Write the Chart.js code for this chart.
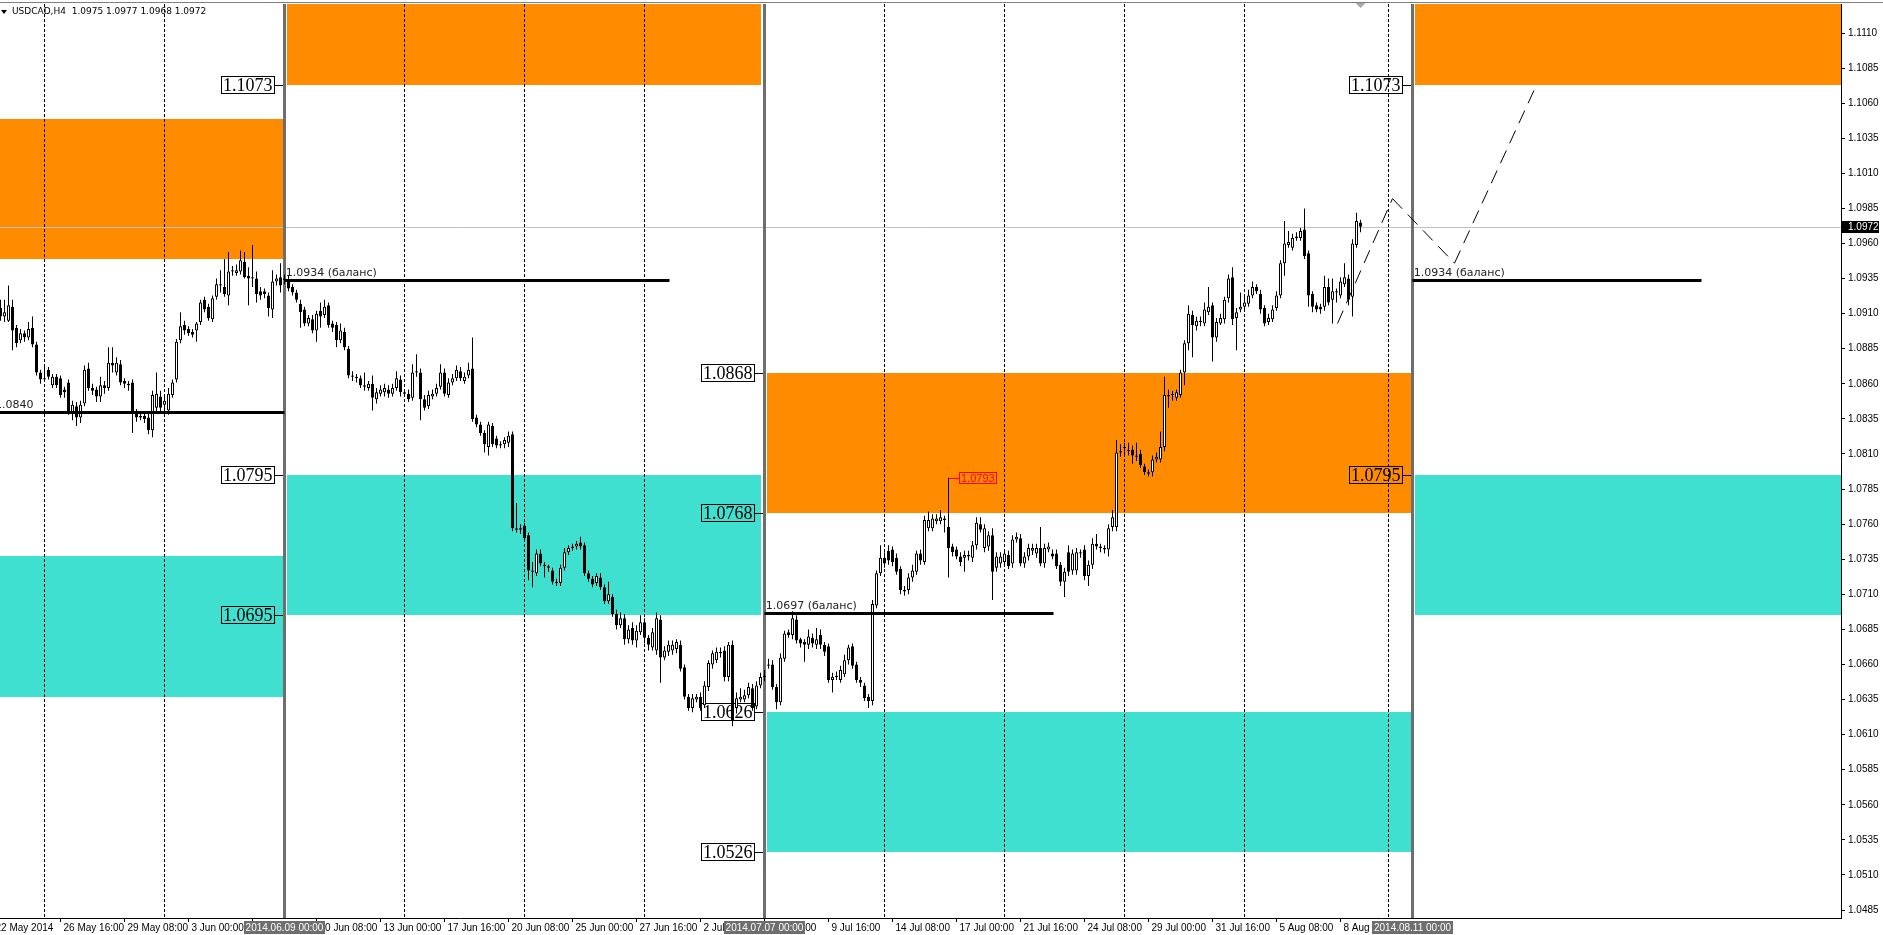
<!DOCTYPE html>
<html><head><meta charset="utf-8">
<script src="https://cdn.jsdelivr.net/npm/chart.js@4.4.1/dist/chart.umd.min.js"></script>
<style>html,body{margin:0;padding:0;background:#fff;overflow:hidden}canvas{display:block}</style>
</head><body>
<canvas id="c" width="1883" height="935" style="width:1883px;height:935px"></canvas>
<script>
const symbolName = 'USDCAD,H4';

const opens = [
1.0914,1.0908,1.0905,1.0915,1.0900,1.0891,1.0896,1.0893,1.0900,1.0888,
1.0868,1.0863,1.0870,1.0859,1.0865,1.0864,1.0856,1.0861,1.0840,1.0844,
1.0836,1.0846,1.0871,1.0857,1.0856,1.0851,1.0859,1.0857,1.0875,1.0868,
1.0874,1.0862,1.0860,1.0861,1.0839,1.0836,1.0837,1.0836,1.0827,1.0843,
1.0851,1.0845,1.0841,1.0852,1.0863,1.0891,1.0902,1.0899,1.0897,1.0898,
1.0904,1.0920,1.0915,1.0906,1.0922,1.0931,1.0929,1.0923,1.0940,1.0939,
1.0940,1.0947,1.0937,1.0935,1.0935,1.0926,1.0926,1.0923,1.0913,1.0933,
1.0936,1.0934,1.0934,1.0929,1.0925,1.0917,1.0913,1.0903,1.0906,1.0898,
1.0912,1.0909,1.0916,1.0903,1.0902,1.0891,1.0897,1.0885,1.0866,1.0865,
1.0864,1.0859,1.0857,1.0860,1.0849,1.0853,1.0854,1.0856,1.0853,1.0857,
1.0863,1.0854,1.0853,1.0850,1.0868,1.0868,1.0849,1.0844,1.0851,1.0853,
1.0858,1.0868,1.0852,1.0861,1.0864,1.0869,1.0862,1.0866,1.0871,1.0836,
1.0831,1.0825,1.0815,1.0830,1.0821,1.0816,1.0817,1.0818,1.0824,1.0757,
1.0756,1.0759,1.0752,1.0727,1.0725,1.0739,1.0731,1.0730,1.0727,1.0719,
1.0718,1.0729,1.0740,1.0743,1.0744,1.0747,1.0745,1.0725,1.0721,1.0718,
1.0722,1.0715,1.0705,1.0708,1.0696,1.0688,1.0693,1.0678,1.0686,1.0677,
1.0683,1.0690,1.0679,1.0672,1.0670,1.0692,1.0665,1.0669,1.0670,1.0671,
1.0674,1.0658,1.0637,1.0629,1.0635,1.0637,1.0631,1.0644,1.0660,1.0663,
1.0669,1.0670,1.0651,1.0674,1.0629,1.0635,1.0635,1.0638,1.0643,1.0630,
1.0645,1.0651,1.0659,1.0660,1.0644,1.0633,1.0664,1.0683,1.0681,1.0692,
1.0678,1.0676,1.0674,1.0679,1.0674,1.0681,1.0674,1.0673,1.0649,1.0651,
1.0649,1.0653,1.0663,1.0673,1.0660,1.0649,1.0645,1.0637,1.0634,1.0702,
1.0725,1.0736,1.0741,1.0742,1.0736,1.0728,1.0713,1.0713,1.0722,1.0726,
1.0739,1.0733,1.0757,1.0757,1.0762,1.0762,1.0764,1.0758,1.0744,1.0742,
1.0737,1.0736,1.0737,1.0736,1.0745,1.0760,1.0743,1.0744,1.0752,1.0729,
1.0732,1.0733,1.0738,1.0732,1.0749,1.0750,1.0732,1.0737,1.0741,1.0739,
1.0743,1.0732,1.0742,1.0739,1.0739,1.0731,1.0719,1.0740,1.0727,1.0727,
1.0740,1.0742,1.0723,1.0731,1.0746,1.0744,1.0743,1.0742,1.0758,1.0758,
1.0811,1.0815,1.0813,1.0813,1.0808,1.0810,1.0801,1.0797,1.0797,1.0806,
1.0806,1.0815,1.0852,1.0852,1.0850,1.0852,1.0868,1.0889,1.0909,1.0901,
1.0904,1.0903,1.0911,1.0916,1.0893,1.0903,1.0906,1.0921,1.0936,1.0907,
1.0913,1.0915,1.0917,1.0923,1.0929,1.0924,1.0914,1.0904,1.0906,1.0914,
1.0923,1.0946,1.0959,1.0957,1.0964,1.0964,1.0970,1.0953,1.0924,1.0916,
1.0915,1.0915,1.0929,1.0920,1.0925,1.0923,1.0931,1.0935,1.0922,1.0959,
1.0975];

const highs = [
1.0920,1.0920,1.0930,1.0920,1.0902,1.0899,1.0898,1.0904,1.0908,1.0890,
1.0870,1.0872,1.0872,1.0867,1.0867,1.0866,1.0858,1.0863,1.0848,1.0847,
1.0848,1.0873,1.0875,1.0860,1.0858,1.0865,1.0862,1.0886,1.0886,1.0879,
1.0877,1.0864,1.0862,1.0863,1.0842,1.0840,1.0839,1.0839,1.0855,1.0868,
1.0855,1.0852,1.0857,1.0863,1.0892,1.0911,1.0905,1.0901,1.0899,1.0904,
1.0920,1.0922,1.0917,1.0923,1.0935,1.0941,1.0949,1.0954,1.0944,1.0945,
1.0955,1.0954,1.0943,1.0959,1.0940,1.0929,1.0928,1.0925,1.0941,1.0938,
1.0946,1.0938,1.0937,1.0931,1.0927,1.0920,1.0915,1.0909,1.0909,1.0912,
1.0918,1.0920,1.0918,1.0905,1.0904,1.0903,1.0900,1.0887,1.0869,1.0867,
1.0866,1.0868,1.0862,1.0866,1.0857,1.0859,1.0860,1.0859,1.0860,1.0869,
1.0866,1.0856,1.0856,1.0874,1.0881,1.0871,1.0852,1.0855,1.0856,1.0860,
1.0874,1.0871,1.0864,1.0867,1.0873,1.0872,1.0868,1.0875,1.0893,1.0838,
1.0833,1.0827,1.0833,1.0832,1.0823,1.0819,1.0822,1.0826,1.0826,1.0775,
1.0760,1.0761,1.0754,1.0733,1.0742,1.0742,1.0733,1.0731,1.0729,1.0721,
1.0731,1.0743,1.0745,1.0746,1.0748,1.0751,1.0747,1.0727,1.0723,1.0725,
1.0725,1.0717,1.0719,1.0710,1.0699,1.0697,1.0696,1.0688,1.0690,1.0688,
1.0695,1.0693,1.0681,1.0686,1.0697,1.0695,1.0673,1.0677,1.0677,1.0678,
1.0677,1.0660,1.0639,1.0639,1.0639,1.0640,1.0648,1.0663,1.0670,1.0672,
1.0672,1.0673,1.0676,1.0677,1.0640,1.0643,1.0642,1.0647,1.0646,1.0648,
1.0654,1.0656,1.0664,1.0663,1.0646,1.0668,1.0684,1.0685,1.0698,1.0695,
1.0679,1.0678,1.0685,1.0682,1.0686,1.0685,1.0676,1.0675,1.0654,1.0655,
1.0659,1.0667,1.0674,1.0675,1.0662,1.0651,1.0647,1.0639,1.0706,1.0727,
1.0745,1.0740,1.0745,1.0744,1.0739,1.0730,1.0716,1.0725,1.0731,1.0741,
1.0742,1.0766,1.0769,1.0767,1.0767,1.0770,1.0766,1.0793,1.0746,1.0744,
1.0740,1.0741,1.0741,1.0748,1.0765,1.0765,1.0760,1.0755,1.0757,1.0740,
1.0740,1.0742,1.0741,1.0752,1.0754,1.0753,1.0740,1.0746,1.0746,1.0746,
1.0758,1.0746,1.0747,1.0742,1.0742,1.0733,1.0729,1.0745,1.0742,1.0743,
1.0742,1.0745,1.0734,1.0750,1.0753,1.0746,1.0745,1.0760,1.0770,1.0820,
1.0817,1.0818,1.0818,1.0816,1.0818,1.0813,1.0803,1.0799,1.0809,1.0811,
1.0826,1.0865,1.0856,1.0855,1.0856,1.0870,1.0891,1.0916,1.0912,1.0908,
1.0908,1.0918,1.0929,1.0918,1.0907,1.0910,1.0922,1.0938,1.0943,1.0914,
1.0925,1.0924,1.0927,1.0933,1.0931,1.0927,1.0916,1.0910,1.0916,1.0926,
1.0948,1.0976,1.0969,1.0967,1.0968,1.0971,1.0985,1.0955,1.0926,1.0918,
1.0917,1.0937,1.0935,1.0935,1.0928,1.0936,1.0946,1.0938,1.0963,1.0982,
1.0977];

const lows = [
1.0905,1.0904,1.0904,1.0884,1.0886,1.0889,1.0890,1.0891,1.0886,1.0866,
1.0860,1.0862,1.0863,1.0857,1.0857,1.0850,1.0850,1.0838,1.0834,1.0830,
1.0832,1.0844,1.0855,1.0852,1.0847,1.0847,1.0853,1.0855,1.0868,1.0866,
1.0859,1.0857,1.0855,1.0825,1.0833,1.0834,1.0832,1.0824,1.0822,1.0839,
1.0840,1.0842,1.0838,1.0850,1.0861,1.0889,1.0895,1.0894,1.0893,1.0890,
1.0902,1.0911,1.0905,1.0904,1.0920,1.0925,1.0922,1.0916,1.0937,1.0937,
1.0938,1.0935,1.0916,1.0929,1.0918,1.0920,1.0921,1.0908,1.0907,1.0930,
1.0925,1.0931,1.0926,1.0923,1.0918,1.0900,1.0901,1.0901,1.0896,1.0890,
1.0900,1.0907,1.0900,1.0897,1.0886,1.0889,1.0884,1.0864,1.0862,1.0861,
1.0857,1.0855,1.0855,1.0841,1.0846,1.0851,1.0851,1.0850,1.0851,1.0855,
1.0851,1.0851,1.0847,1.0848,1.0865,1.0834,1.0841,1.0842,1.0849,1.0851,
1.0856,1.0851,1.0850,1.0859,1.0862,1.0862,1.0860,1.0864,1.0833,1.0829,
1.0823,1.0811,1.0809,1.0815,1.0814,1.0814,1.0814,1.0815,1.0755,1.0754,
1.0753,1.0748,1.0720,1.0715,1.0723,1.0730,1.0722,1.0726,1.0717,1.0716,
1.0716,1.0727,1.0738,1.0741,1.0742,1.0742,1.0723,1.0719,1.0715,1.0716,
1.0713,1.0703,1.0703,1.0694,1.0685,1.0686,1.0674,1.0675,1.0674,1.0672,
1.0681,1.0675,1.0670,1.0670,1.0667,1.0647,1.0663,1.0666,1.0667,1.0668,
1.0655,1.0635,1.0627,1.0626,1.0633,1.0627,1.0629,1.0641,1.0657,1.0661,
1.0665,1.0648,1.0648,1.0616,1.0625,1.0633,1.0633,1.0636,1.0627,1.0628,
1.0643,1.0648,1.0657,1.0642,1.0628,1.0631,1.0662,1.0679,1.0678,1.0675,
1.0672,1.0662,1.0671,1.0672,1.0671,1.0671,1.0666,1.0647,1.0640,1.0649,
1.0647,1.0651,1.0660,1.0657,1.0647,1.0644,1.0634,1.0629,1.0631,1.0700,
1.0723,1.0729,1.0731,1.0730,1.0724,1.0710,1.0709,1.0710,1.0719,1.0724,
1.0731,1.0731,1.0755,1.0755,1.0760,1.0760,1.0754,1.0722,1.0737,1.0735,
1.0730,1.0726,1.0734,1.0733,1.0742,1.0754,1.0740,1.0741,1.0706,1.0726,
1.0729,1.0730,1.0728,1.0729,1.0747,1.0730,1.0729,1.0734,1.0738,1.0736,
1.0730,1.0729,1.0740,1.0735,1.0728,1.0716,1.0708,1.0723,1.0724,1.0724,
1.0736,1.0720,1.0716,1.0728,1.0742,1.0740,1.0739,1.0737,1.0755,1.0755,
1.0808,1.0810,1.0809,1.0803,1.0805,1.0800,1.0795,1.0794,1.0794,1.0804,
1.0804,1.0812,1.0843,1.0848,1.0848,1.0850,1.0859,1.0884,1.0879,1.0898,
1.0901,1.0901,1.0909,1.0876,1.0890,1.0902,1.0903,1.0918,1.0902,1.0884,
1.0911,1.0913,1.0915,1.0921,1.0924,1.0910,1.0901,1.0902,1.0904,1.0912,
1.0921,1.0937,1.0957,1.0955,1.0962,1.0962,1.0949,1.0915,1.0911,1.0911,
1.0910,1.0912,1.0916,1.0903,1.0918,1.0921,1.0929,1.0916,1.0908,1.0957,
1.0968];

const closes = [
1.0908,1.0911,1.0916,1.0898,1.0889,1.0896,1.0893,1.0899,1.0888,1.0868,
1.0863,1.0864,1.0865,1.0865,1.0859,1.0852,1.0854,1.0840,1.0845,1.0836,
1.0845,1.0870,1.0857,1.0855,1.0851,1.0859,1.0857,1.0875,1.0873,1.0875,
1.0861,1.0860,1.0859,1.0839,1.0836,1.0837,1.0835,1.0827,1.0852,1.0853,
1.0843,1.0848,1.0853,1.0861,1.0890,1.0901,1.0898,1.0896,1.0895,1.0903,
1.0918,1.0913,1.0907,1.0921,1.0931,1.0930,1.0924,1.0940,1.0941,1.0941,
1.0948,1.0936,1.0935,1.0936,1.0924,1.0923,1.0924,1.0914,1.0933,1.0935,
1.0930,1.0935,1.0928,1.0925,1.0920,1.0911,1.0903,1.0907,1.0898,1.0910,
1.0908,1.0915,1.0902,1.0900,1.0891,1.0898,1.0886,1.0866,1.0865,1.0864,
1.0859,1.0858,1.0860,1.0850,1.0854,1.0856,1.0857,1.0853,1.0857,1.0864,
1.0854,1.0853,1.0849,1.0868,1.0869,1.0849,1.0843,1.0852,1.0853,1.0857,
1.0868,1.0853,1.0861,1.0864,1.0870,1.0864,1.0865,1.0870,1.0835,1.0831,
1.0825,1.0817,1.0831,1.0817,1.0816,1.0817,1.0820,1.0823,1.0757,1.0756,
1.0757,1.0750,1.0727,1.0726,1.0739,1.0732,1.0730,1.0729,1.0719,1.0718,
1.0729,1.0740,1.0743,1.0744,1.0746,1.0744,1.0725,1.0721,1.0717,1.0723,
1.0715,1.0705,1.0710,1.0696,1.0688,1.0693,1.0678,1.0685,1.0677,1.0684,
1.0690,1.0679,1.0674,1.0683,1.0693,1.0665,1.0670,1.0674,1.0674,1.0676,
1.0657,1.0637,1.0629,1.0636,1.0637,1.0629,1.0645,1.0661,1.0668,1.0669,
1.0668,1.0651,1.0674,1.0620,1.0636,1.0637,1.0638,1.0644,1.0629,1.0645,
1.0651,1.0652,1.0660,1.0644,1.0633,1.0665,1.0682,1.0681,1.0693,1.0677,
1.0675,1.0674,1.0680,1.0675,1.0678,1.0674,1.0669,1.0649,1.0651,1.0652,
1.0656,1.0663,1.0672,1.0659,1.0649,1.0647,1.0636,1.0634,1.0703,1.0725,
1.0736,1.0732,1.0734,1.0733,1.0726,1.0713,1.0712,1.0722,1.0727,1.0739,
1.0734,1.0763,1.0763,1.0764,1.0764,1.0765,1.0763,1.0743,1.0740,1.0737,
1.0733,1.0738,1.0738,1.0745,1.0761,1.0756,1.0757,1.0752,1.0726,1.0737,
1.0737,1.0739,1.0730,1.0749,1.0751,1.0732,1.0737,1.0743,1.0743,1.0743,
1.0732,1.0743,1.0744,1.0737,1.0730,1.0719,1.0726,1.0726,1.0739,1.0740,
1.0739,1.0723,1.0731,1.0746,1.0744,1.0743,1.0742,1.0757,1.0765,1.0811,
1.0812,1.0814,1.0812,1.0809,1.0809,1.0802,1.0797,1.0796,1.0806,1.0808,
1.0815,1.0852,1.0851,1.0852,1.0854,1.0868,1.0889,1.0910,1.0902,1.0905,
1.0905,1.0913,1.0915,1.0893,1.0904,1.0907,1.0920,1.0935,1.0906,1.0911,
1.0915,1.0918,1.0923,1.0929,1.0926,1.0913,1.0903,1.0907,1.0913,1.0923,
1.0946,1.0960,1.0961,1.0964,1.0965,1.0969,1.0951,1.0923,1.0915,1.0913,
1.0913,1.0929,1.0918,1.0926,1.0926,1.0933,1.0936,1.0920,1.0960,1.0976,
1.0972];

const yTickValues = [1.0485,1.0510,1.0535,1.0560,1.0585,1.0610,1.0635,1.0660,1.0685,1.0710,1.0735,1.0760,1.0785,
  1.0810,1.0835,1.0860,1.0885,1.0910,1.0935,1.0960,1.0985,1.1010,1.1035,1.1060,1.1085,1.1110];
const xTickBars = [15,31,47,63,79,95,111,127,143,159,175,191,207,223,239,255,271,287,303,319,335];
const xTickLabels = ['26 May 16:00','29 May 08:00','3 Jun 00:00','5 Jun 16:00','10 Jun 08:00','13 Jun 00:00',
  '17 Jun 16:00','20 Jun 08:00','25 Jun 00:00','27 Jun 16:00','2 Jul 08:00','7 Jul 00:00','9 Jul 16:00',
  '14 Jul 08:00','17 Jul 00:00','21 Jul 16:00','24 Jul 08:00','29 Jul 00:00','31 Jul 16:00','5 Aug 08:00','8 Aug 00:00'];
const firstDateBar = -2;
const firstDateLabel = '22 May 2014';

const weekStartBars = [11,41,71,101,131,161,191,221,251,281,311,347];
const markerBars = [71,191,353];
const markerLabels = ['2014.06.09 00:00','2014.07.07 00:00','2014.08.11 00:00'];

const zoneStart = [-2,71.5,191.5,353.5];
const zoneEnd = [70.75,190,352.5,470];
const supplyLow = [1.0949,1.1073,1.0768,1.1073];
const supplyHigh = [1.1049,1.1173,1.0868,1.1173];
const demandLow = [1.0637,1.0695,1.0526,1.0695];
const demandHigh = [1.0737,1.0795,1.0626,1.0795];

const levelBars = [71,71,71,191,191,191,191,353,353];
const levelPrices = [1.1073,1.0795,1.0695,1.0868,1.0768,1.0626,1.0526,1.1073,1.0795];

const balanceStart = [-2,71,191,353];
const balanceEnd = [71,167.25,263.25,425.25];
const balancePrice = [1.0840,1.0934,1.0697,1.0934];
const balanceLabelBar = [-1.4,71.3,191.3,353.3];
const balanceText = ['1.0840','1.0934 (баланс)','1.0697 (баланс)','1.0934 (баланс)'];

const forecastBars = [334.25,348,363.5,384];
const forecastPrices = [1.0903,1.0992,1.0946,1.1073];

const highMarkBar = 237;
const highMarkPrice = 1.0793;

const barIdx = opens.map((_, i) => i);
const wickData = barIdx.map(i => ({x: i, y: [lows[i], highs[i]]}));
const bodyData = barIdx.map(i => ({x: i, y: [opens[i], closes[i]]}));
const bodyColors = barIdx.map(i => closes[i] >= opens[i] ? '#ffffff' : '#000000');

const ORANGE = '#FF8C00', TURQ = '#40E0D0';

const overlay = {
  id: 'mt4overlay',
  beforeDatasetsDraw(chart) {
    const {ctx, chartArea: a, scales: {x, y}} = chart;
    ctx.save();
    ctx.beginPath(); ctx.rect(a.left, a.top, a.right - a.left, a.bottom - a.top); ctx.clip();
    for (let k = 0; k < zoneStart.length; k++) {
      const x0 = Math.round(x.getPixelForValue(zoneStart[k]));
      const x1 = Math.round(x.getPixelForValue(zoneEnd[k]));
      const band = (lo, hi, col) => {
        const y0 = Math.round(y.getPixelForValue(hi)), y1 = Math.round(y.getPixelForValue(lo));
        ctx.fillStyle = col; ctx.fillRect(x0, y0, x1 - x0, y1 - y0);
      };
      band(supplyLow[k], supplyHigh[k], ORANGE);
      band(demandLow[k], demandHigh[k], TURQ);
    }
    const last = closes[closes.length - 1];
    const yc = Math.round(y.getPixelForValue(last)) + 0.5;
    ctx.strokeStyle = '#c0c0c0'; ctx.lineWidth = 1;
    ctx.beginPath(); ctx.moveTo(a.left, yc); ctx.lineTo(a.right, yc); ctx.stroke();
    ctx.strokeStyle = '#000'; ctx.setLineDash([3, 2]);
    for (const b of weekStartBars) {
      const xx = Math.floor(x.getPixelForValue(b)) + 0.5;
      ctx.beginPath(); ctx.moveTo(xx, a.top); ctx.lineTo(xx, a.bottom); ctx.stroke();
    }
    ctx.setLineDash([]);
    ctx.font = '18px "Liberation Serif", "Times New Roman", serif';
    ctx.textBaseline = 'middle'; ctx.textAlign = 'left';
    for (let k = 0; k < levelBars.length; k++) {
      const xs = Math.floor(x.getPixelForValue(levelBars[k]));
      const yy = Math.round(y.getPixelForValue(levelPrices[k]));
      const txt = levelPrices[k].toFixed(4);
      const w = Math.ceil(ctx.measureText(txt).width) + 3;
      const R = xs - 10, L = R - w;
      ctx.strokeStyle = '#000'; ctx.lineWidth = 1;
      ctx.strokeRect(L + 0.5, yy - 9 + 0.5, w, 17);
      ctx.beginPath(); ctx.moveTo(R, yy + 0.5); ctx.lineTo(xs, yy + 0.5); ctx.stroke();
      ctx.fillStyle = '#000'; ctx.fillText(txt, L + 2, yy + 1);
    }
    ctx.strokeStyle = '#6e6e6e'; ctx.lineWidth = 3;
    for (const b of markerBars) {
      const xx = Math.floor(x.getPixelForValue(b)) + 0.5;
      ctx.beginPath(); ctx.moveTo(xx, a.top); ctx.lineTo(xx, a.bottom); ctx.stroke();
    }
    ctx.restore();
  },
  afterDatasetsDraw(chart) {
    const {ctx, chartArea: a, scales: {x, y}} = chart;
    ctx.save();
    ctx.beginPath(); ctx.rect(a.left, a.top, a.right - a.left, a.bottom - a.top); ctx.clip();
    for (let k = 0; k < balancePrice.length; k++) {
      const yy = Math.round(y.getPixelForValue(balancePrice[k]));
      ctx.strokeStyle = '#000'; ctx.lineWidth = 3;
      ctx.beginPath();
      ctx.moveTo(x.getPixelForValue(balanceStart[k]), yy + 0.5);
      ctx.lineTo(x.getPixelForValue(balanceEnd[k]), yy + 0.5);
      ctx.stroke();
      ctx.font = '11px "DejaVu Sans", sans-serif';
      ctx.fillStyle = '#222'; ctx.textBaseline = 'alphabetic'; ctx.textAlign = 'left';
      ctx.fillText(balanceText[k], x.getPixelForValue(balanceLabelBar[k]), yy - 4);
    }
    ctx.strokeStyle = '#000'; ctx.lineWidth = 1; ctx.setLineDash([14, 8]);
    for (let k = 0; k < forecastBars.length - 1; k++) {
      ctx.beginPath();
      ctx.moveTo(x.getPixelForValue(forecastBars[k]), y.getPixelForValue(forecastPrices[k]));
      ctx.lineTo(x.getPixelForValue(forecastBars[k + 1]), y.getPixelForValue(forecastPrices[k + 1]));
      ctx.stroke();
    }
    ctx.setLineDash([]);
    const hx = Math.floor(x.getPixelForValue(highMarkBar)) + 0.5;
    const hy = Math.round(y.getPixelForValue(highMarkPrice)) + 0.5;
    ctx.font = '11px "Liberation Sans", Arial, sans-serif';
    const ht = highMarkPrice.toFixed(4);
    const hw = Math.ceil(ctx.measureText(ht).width) + 3;
    const bx = Math.round(hx) + 10;
    ctx.strokeStyle = '#ff0000'; ctx.lineWidth = 1;
    ctx.beginPath(); ctx.moveTo(hx, hy); ctx.lineTo(bx, hy); ctx.stroke();
    ctx.strokeRect(bx + 0.5, hy - 6, hw, 11);
    ctx.fillStyle = '#ff0000'; ctx.textBaseline = 'middle';
    ctx.fillText(ht, bx + 2, hy);
    ctx.restore();

    ctx.save();
    const last = closes[closes.length - 1];
    const yl = Math.round(y.getPixelForValue(last));
    ctx.fillStyle = '#000'; ctx.fillRect(a.right + 1, yl - 6, 37, 12);
    ctx.font = '10px "Liberation Sans", Arial, sans-serif';
    ctx.fillStyle = '#fff'; ctx.textBaseline = 'middle'; ctx.textAlign = 'left';
    ctx.fillText(last.toFixed(4), a.right + 7, yl);

    for (let k = 0; k < markerBars.length; k++) {
      const xx = Math.floor(x.getPixelForValue(markerBars[k]));
      const w = Math.ceil(ctx.measureText(markerLabels[k]).width) + 3;
      ctx.fillStyle = '#6e6e6e'; ctx.fillRect(Math.round(xx - w / 2), a.bottom + 3, w, 13);
      ctx.fillStyle = '#fff'; ctx.textAlign = 'center';
      ctx.fillText(markerLabels[k], xx + 0.5, a.bottom + 10);
    }
    ctx.textAlign = 'left'; ctx.fillStyle = '#000';
    ctx.fillText(firstDateLabel, x.getPixelForValue(firstDateBar) + 3, a.bottom + 10);

    ctx.font = '9px "DejaVu Sans", sans-serif';
    ctx.fillStyle = '#000';
    const n = closes.length - 1;
    ctx.fillText(symbolName + '  ' + opens[n].toFixed(4) + ' ' + highs[n].toFixed(4) + ' ' +
      lows[n].toFixed(4) + ' ' + closes[n].toFixed(4), 12, 12);
    ctx.beginPath(); ctx.moveTo(1, 10); ctx.lineTo(7, 10); ctx.lineTo(4, 14); ctx.closePath(); ctx.fill();
    ctx.fillStyle = '#808080'; ctx.fillRect(0, 2, chart.width, 1);
    const sx = Math.floor(x.getPixelForValue(n)) + 0.5;
    ctx.fillStyle = '#a8a8a8';
    ctx.beginPath(); ctx.moveTo(sx - 5, 3); ctx.lineTo(sx + 5, 3); ctx.lineTo(sx, 8); ctx.closePath(); ctx.fill();
    ctx.restore();
  }
};

Chart.defaults.font.family = '"Liberation Sans", Arial, sans-serif';
Chart.defaults.color = '#000';

new Chart(document.getElementById('c'), {
  type: 'bar',
  data: {
    datasets: [
      { label: 'wicks', data: wickData, backgroundColor: '#000', borderWidth: 0,
        grouped: false, barPercentage: 1, categoryPercentage: 1, maxBarThickness: 1,
        inflateAmount: 0, order: 2 },
      { label: 'bodies', data: bodyData, backgroundColor: bodyColors, borderColor: '#000', borderWidth: 1,
        borderSkipped: false, grouped: false, barPercentage: 1, categoryPercentage: 1, maxBarThickness: 3,
        minBarLength: 1, inflateAmount: 0, order: 1 }
    ]
  },
  options: {
    responsive: false, animation: false, events: [],
    layout: { padding: { top: 4, left: 0, right: 0, bottom: 0 } },
    plugins: { legend: { display: false }, tooltip: { enabled: false } },
    scales: {
      x: {
        type: 'linear', min: -0.125, max: 460.125, offset: false,
        grid: { drawOnChartArea: false, drawTicks: true, tickLength: 4, color: '#000', offset: false },
        border: { display: true, color: '#000', width: 1 },
        afterBuildTicks: s => { s.ticks = xTickBars.map(v => ({ value: v })); },
        afterFit: s => { s.height = 17; s.paddingLeft = 0; s.paddingRight = 0; },
        ticks: {
          autoSkip: false, maxRotation: 0, minRotation: 0, align: 'start', labelOffset: 3, padding: 0,
          font: { size: 10 }, color: '#000',
          callback: (v, i) => xTickLabels[i]
        }
      },
      y: {
        position: 'right', min: 1.04793, max: 1.11307,
        grid: { drawOnChartArea: false, drawTicks: true, tickLength: 4, color: '#000' },
        border: { display: true, color: '#000', width: 1 },
        afterBuildTicks: s => { s.ticks = yTickValues.map(v => ({ value: v })); },
        afterFit: s => { s.width = 42; s.paddingTop = 0; s.paddingBottom = 0; },
        ticks: { padding: 3, font: { size: 10 }, color: '#000', callback: v => Number(v).toFixed(4) }
      }
    }
  },
  plugins: [overlay]
});
</script>
</body></html>
